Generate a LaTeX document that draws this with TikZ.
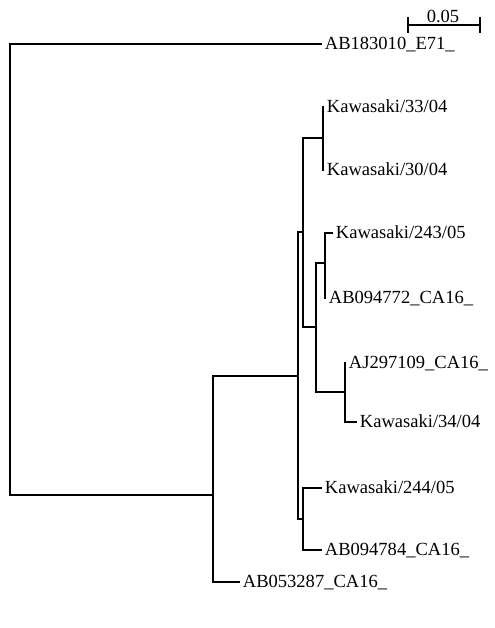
\documentclass[tikz,border=0pt]{standalone}
\usepackage{fontspec}
\setmainfont{Liberation Serif}
\usetikzlibrary{calc}
\tikzset{
  leaf/.style={anchor=west, inner xsep=2pt, inner ysep=0pt, text height=8.5pt, text depth=0pt, font=\fontsize{13.9}{16}\selectfont},
  branch/.style={line width=1.1pt},
}
\begin{document}
\begin{tikzpicture}[x=0.75pt,y=-0.75pt]
\useasboundingbox (0,0) rectangle (494,628);
% leaves
\node[leaf] (ab183010) at (322,44) {AB183010\_E71\_};
\node[leaf] (kw3304) at (324,107) {Kawasaki/33/04};
\node[leaf] (kw3004) at (324,170) {Kawasaki/30/04};
\node[leaf] (kw24305) at (333,233) {Kawasaki/243/05};
\node[leaf] (ab094772) at (326,298) {AB094772\_CA16\_};
\node[leaf] (aj297109) at (346,363) {AJ297109\_CA16\_};
\node[leaf] (kw3404) at (357,422) {Kawasaki/34/04};
\node[leaf] (kw24405) at (322,488) {Kawasaki/244/05};
\node[leaf] (ab094784) at (322,550) {AB094784\_CA16\_};
\node[leaf] (ab053287) at (240,582) {AB053287\_CA16\_};
% inner nodes
\coordinate (root) at (10,270);
\coordinate (h) at (213,495);
\coordinate (g) at (298,376);
\coordinate (e) at (303,232);
\coordinate (a) at (323,138);
\coordinate (d) at (316,327);
\coordinate (b) at (325,263);
\coordinate (c) at (345,392);
\coordinate (f) at (303,519);
% branches
\draw[branch] (root) |- (ab183010.west);
\draw[branch] (root) |- (h);
\draw[branch] (h) |- (g);
\draw[branch] (h) |- (ab053287.west);
\draw[branch] (g) |- (e);
\draw[branch] (g) |- (f);
\draw[branch] (e) |- (a);
\draw[branch] (e) |- (d);
\draw[branch] (a) |- (kw3304.west);
\draw[branch] (a) |- (kw3004.west);
\draw[branch] (d) |- (b);
\draw[branch] (d) |- (c);
\draw[branch] (b) |- (kw24305.west);
\draw[branch] (b) |- (ab094772.west);
\draw[branch] (c) |- (aj297109.west);
\draw[branch] (c) |- (kw3404.west);
\draw[branch] (f) |- (kw24405.west);
\draw[branch] (f) |- (ab094784.west);
% scale bar
\coordinate (sbl) at (408,25);
\coordinate (sbr) at (480,25);
\draw[branch] (sbl) -- (sbr);
\draw[branch] ([yshift=6pt]sbl) -- ([yshift=-6pt]sbl);
\draw[branch] ([yshift=6pt]sbr) -- ([yshift=-6pt]sbr);
\node[leaf, anchor=south] (sblabel) at ($(sbl)!0.5!(sbr)+(-1,-2)$) {0.05};
\end{tikzpicture}
\end{document}
